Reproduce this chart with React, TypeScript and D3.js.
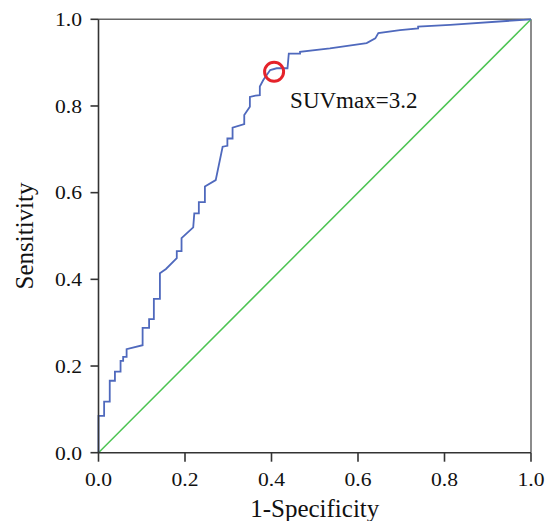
import React from "react";
import * as d3 from "d3";

const fpr = [0, 0, 0.013, 0.013, 0.026, 0.026, 0.038, 0.038, 0.051, 0.051, 0.057, 0.057, 0.065, 0.065, 0.102, 0.102, 0.117, 0.117, 0.128, 0.128, 0.142, 0.142, 0.156, 0.181, 0.181, 0.192, 0.192, 0.219, 0.2215, 0.232, 0.232, 0.246, 0.246, 0.271, 0.287, 0.298, 0.298, 0.31, 0.31, 0.337, 0.337, 0.35, 0.35, 0.363, 0.373, 0.373, 0.381, 0.397, 0.412, 0.437, 0.44, 0.466, 0.466, 0.535, 0.62, 0.64, 0.647, 0.697, 0.739, 0.739, 0.813, 1];
const tpr = [0, 0.085, 0.085, 0.118, 0.118, 0.166, 0.166, 0.187, 0.187, 0.212, 0.212, 0.221, 0.221, 0.239, 0.248, 0.288, 0.288, 0.308, 0.308, 0.355, 0.355, 0.414, 0.424, 0.449, 0.465, 0.465, 0.495, 0.52, 0.552, 0.552, 0.578, 0.578, 0.614, 0.629, 0.706, 0.708, 0.725, 0.725, 0.75, 0.758, 0.779, 0.798, 0.821, 0.824, 0.825, 0.845, 0.86, 0.883, 0.887, 0.887, 0.921, 0.921, 0.925, 0.933, 0.945, 0.956, 0.968, 0.975, 0.979, 0.983, 0.987, 1];
const refLine = [0, 1];
const ticks = [0, 0.2, 0.4, 0.6, 0.8, 1.0];
const cutoff = { fpr: 0.406, tpr: 0.879, label: "SUVmax=3.2" };
const xTitle = "1-Specificity";
const yTitle = "Sensitivity";

const W = 547;
const H = 521;
const X0 = 98.5;
const X1 = 531;
const Y0 = 452.7;
const Y1 = 19.3;

export default function App() {
  const x = d3.scaleLinear().domain([0, 1]).range([X0, X1]);
  const y = d3.scaleLinear().domain([0, 1]).range([Y0, Y1]);
  const pts: [number, number][] = fpr.map((f, i) => [f, tpr[i]]);
  const line = d3
    .line<[number, number]>()
    .x((d) => x(d[0]))
    .y((d) => y(d[1]));
  const font = "'Liberation Serif', 'Times New Roman', serif";
  return (
    <svg
      width={W}
      height={H}
      style={{ position: "absolute", left: 0, top: 0, background: "#fff" }}
    >
      <rect x={0} y={0} width={W} height={H} fill="#fff" />
      <line x1={x(0)} x2={x(1)} y1={y(1)} y2={y(1)} stroke="#666" strokeWidth={1.5} />
      <line x1={x(1)} x2={x(1)} y1={y(1)} y2={y(0)} stroke="#666" strokeWidth={1.5} />
      <line
        x1={x(refLine[0])}
        y1={y(refLine[0])}
        x2={x(refLine[1])}
        y2={y(refLine[1])}
        stroke="#4cc452"
        strokeWidth={1.5}
      />
      <path d={line(pts) || ""} fill="none" stroke="#4f69bd" strokeWidth={1.8} />
      <line x1={x(0)} x2={x(0)} y1={y(1)} y2={y(0)} stroke="#333" strokeWidth={1.6} />
      <line x1={x(0)} x2={x(1)} y1={y(0)} y2={y(0)} stroke="#333" strokeWidth={1.6} />
      {ticks.map((t) => (
        <g key={"y" + t}>
          <line x1={x(0) - 8} x2={x(0)} y1={y(t)} y2={y(t)} stroke="#333" strokeWidth={1.6} />
          <text
            x={55}
            y={y(t)}
            dy="0.35em"
            textAnchor="start"
            fontFamily={font}
            fontSize={19.5}
            textLength={27}
            lengthAdjust="spacingAndGlyphs"
            fill="#111"
          >
            {t.toFixed(1)}
          </text>
        </g>
      ))}
      {ticks.map((t) => (
        <g key={"x" + t}>
          <line x1={x(t)} x2={x(t)} y1={y(0)} y2={y(0) + 9} stroke="#333" strokeWidth={1.6} />
          <text
            x={x(t) - 13.5}
            y={486}
            textAnchor="start"
            fontFamily={font}
            fontSize={19.5}
            textLength={27}
            lengthAdjust="spacingAndGlyphs"
            fill="#111"
          >
            {t.toFixed(1)}
          </text>
        </g>
      ))}
      <text
        x={(X0 + X1) / 2}
        y={517}
        textAnchor="middle"
        fontFamily={font}
        fontSize={25}
        fill="#111"
      >
        {xTitle}
      </text>
      <text
        transform={`translate(33, ${(Y0 + Y1) / 2}) rotate(-90)`}
        textAnchor="middle"
        fontFamily={font}
        fontSize={25}
        fill="#111"
      >
        {yTitle}
      </text>
      <circle
        cx={x(cutoff.fpr)}
        cy={y(cutoff.tpr)}
        r={9.5}
        fill="none"
        stroke="#e5222a"
        strokeWidth={3}
      />
      <text
        x={x(0.443)}
        y={y(0.795)}
        fontFamily={font}
        fontSize={23}
        fill="#111"
      >
        {cutoff.label}
      </text>
    </svg>
  );
}
